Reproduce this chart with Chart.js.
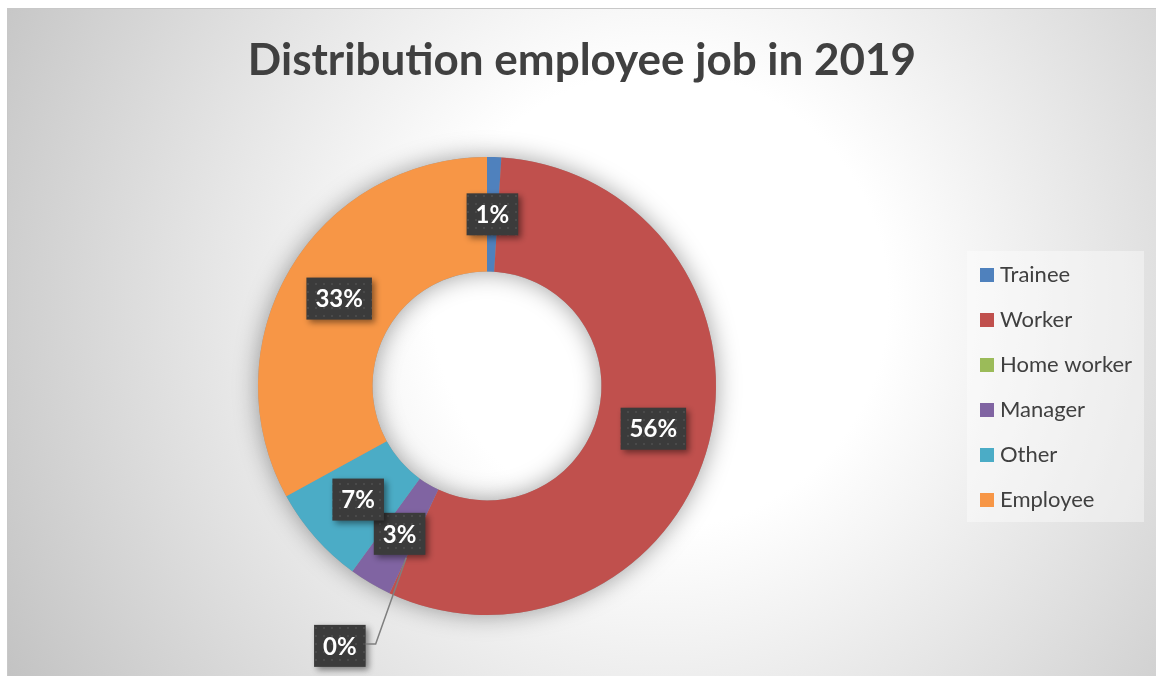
<!DOCTYPE html>
<html>
<head>
<meta charset="utf-8">
<title>Distribution employee job in 2019</title>
<script src="https://cdn.jsdelivr.net/npm/chart.js@4/dist/chart.umd.min.js"></script>
<style>
  html, body { margin: 0; padding: 0; background: #ffffff; }
  #wrap { position: relative; width: 1156px; height: 676px; }
</style>
</head>
<body>
<div id="wrap"><canvas id="jobChart" width="1156" height="676"></canvas></div>
<script>
const categories = ['Trainee', 'Worker', 'Home worker', 'Manager', 'Other', 'Employee'];
const shares = [1, 56, 0, 3, 7, 33];
const sliceColors = ['#4f81bd', '#c0504d', '#9bbb59', '#8064a2', '#4bacc6', '#f79646'];
const chartTitle = 'Distribution employee job in 2019';

const textColor = '#404040';
const fontName = 'Lato, "Open Sans", sans-serif';

// dark dotted fill used behind the data labels
function dotPattern(ctx) {
    const tile = document.createElement('canvas');
    tile.width = 8;
    tile.height = 8;
    const t = tile.getContext('2d');
    t.fillStyle = '#3b3b3b';
    t.fillRect(0, 0, 8, 8);
    t.fillStyle = '#4a4a4a';
    t.fillRect(3, 3, 2, 2);
    return ctx.createPattern(tile, 'repeat');
}

// panel background, border, title and legend
const frame = {
    id: 'frame',
    beforeDraw(chart) {
        const ctx = chart.ctx;
        const w = chart.width, h = chart.height;
        ctx.save();
        ctx.fillStyle = '#ffffff';
        ctx.fillRect(0, 0, w, h);
        const g = ctx.createRadialGradient(660, 300, 0, 660, 300, 760);
        g.addColorStop(0, '#ffffff');
        g.addColorStop(0.3, '#ffffff');
        g.addColorStop(1, '#c2c2c2');
        ctx.fillStyle = g;
        ctx.fillRect(7, 8, w - 7, h - 8);
        ctx.strokeStyle = '#c8c8c8';
        ctx.lineWidth = 1;
        ctx.strokeRect(7.5, 8.5, w, h);

        ctx.fillStyle = textColor;
        ctx.font = 'bold 44px ' + fontName;
        ctx.textAlign = 'center';
        ctx.textBaseline = 'alphabetic';
        ctx.fillText(chartTitle, 582, 75);

        // legend
        ctx.fillStyle = 'rgba(255,255,255,0.4)';
        ctx.fillRect(967, 251, 177, 271);
        ctx.font = '22px ' + fontName;
        ctx.textAlign = 'left';
        categories.forEach((name, i) => {
            const top = 268 + i * 45;
            ctx.fillStyle = sliceColors[i];
            ctx.fillRect(980, top, 14, 14);
            ctx.fillStyle = textColor;
            ctx.fillText(name, 1000, top + 14);
        });
        ctx.restore();
    },
    // soft halo under the ring
    beforeDatasetsDraw(chart) {
        const arc = chart.getDatasetMeta(0).data[0];
        if (!arc) return;
        const { x, y, outerRadius, innerRadius } = arc.getProps(['x', 'y', 'outerRadius', 'innerRadius'], true);
        const ctx = chart.ctx;
        ctx.save();
        ctx.beginPath();
        ctx.arc(x, y, outerRadius, 0, Math.PI * 2);
        ctx.arc(x, y, innerRadius, 0, Math.PI * 2, true);
        ctx.shadowColor = 'rgba(0,0,0,0.38)';
        ctx.shadowBlur = 24;
        ctx.fillStyle = '#999999';
        ctx.fill('evenodd');
        ctx.restore();
    }
};

// percentage boxes on each slice
const sliceLabels = {
    id: 'sliceLabels',
    afterDatasetsDraw(chart) {
        const ctx = chart.ctx;
        const meta = chart.getDatasetMeta(0);
        const pattern = dotPattern(ctx);
        const total = shares.reduce((a, b) => a + b, 0);
        const leaders = [];
        const boxes = [];
        ctx.save();
        ctx.font = 'bold 24px ' + fontName;
        meta.data.forEach((arc, i) => {
            const text = Math.round(shares[i] / total * 100) + '%';
            const p = arc.getProps(['x', 'y', 'startAngle', 'endAngle', 'innerRadius', 'outerRadius'], true);
            const mid = (p.startAngle + p.endAngle) / 2;
            const cos = Math.cos(mid), sin = Math.sin(mid);
            const bw = ctx.measureText(text).width + 18;
            let cx, cy;
            if (shares[i] === 0) {
                // empty slice: pull the label outside with a leader line
                const r0 = (p.innerRadius + p.outerRadius) / 2 + 18;
                const r1 = p.outerRadius + 56;
                const sx = p.x + cos * r0, sy = p.y + sin * r0;
                const ex = p.x + cos * r1 + 10, ey = p.y + sin * r1;
                leaders.push([sx, sy, ex, ey, ex - 10]);
                cx = ex - 10 - bw / 2;
                cy = ey + 2;
            } else {
                const r = (p.innerRadius + p.outerRadius) / 2;
                cx = p.x + cos * r;
                cy = p.y + sin * r;
            }
            boxes.push({ text, cx, cy, bw });
        });

        boxes.forEach(b => {
            ctx.save();
            ctx.shadowColor = 'rgba(0,0,0,0.45)';
            ctx.shadowBlur = 6;
            ctx.shadowOffsetX = 3;
            ctx.shadowOffsetY = 3;
            ctx.fillStyle = pattern;
            ctx.fillRect(b.cx - b.bw / 2, b.cy - 21, b.bw, 42);
            ctx.restore();
        });

        ctx.strokeStyle = '#7f7f7f';
        ctx.lineWidth = 1.5;
        leaders.forEach(([sx, sy, ex, ey, tx]) => {
            ctx.beginPath();
            ctx.moveTo(sx, sy);
            ctx.lineTo(ex, ey);
            ctx.lineTo(tx, ey);
            ctx.stroke();
        });

        ctx.fillStyle = '#ffffff';
        ctx.textAlign = 'center';
        ctx.textBaseline = 'middle';
        boxes.forEach(b => ctx.fillText(b.text, b.cx, b.cy + 1));
        ctx.restore();
    }
};

new Chart(document.getElementById('jobChart'), {
    type: 'doughnut',
    data: {
        labels: categories,
        datasets: [{
            data: shares,
            backgroundColor: sliceColors,
            borderWidth: 0
        }]
    },
    options: {
        responsive: false,
        animation: false,
        cutout: '50%',
        layout: {
            padding: { left: 258, right: 440, top: 157, bottom: 61 }
        },
        plugins: {
            legend: { display: false },
            title: { display: false },
            tooltip: { enabled: false }
        }
    },
    plugins: [frame, sliceLabels]
});
</script>
</body>
</html>
